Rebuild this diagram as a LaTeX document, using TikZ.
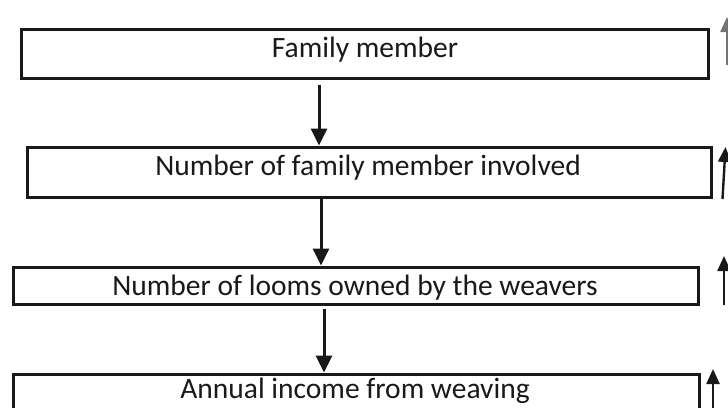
\documentclass[tikz,border=0pt]{standalone}
\usepackage{fontspec}
\setmainfont{Carlito}
\usetikzlibrary{arrows.meta}
\tikzset{
  box/.style={draw=black!90, line width=3pt, rectangle, inner sep=0pt},
  lbl/.style={font=\fontsize{29.5}{35}\selectfont, text=black!90, inner sep=0pt, anchor=base},
  flow/.style={draw=black!90, line width=3pt, -{Triangle[width=16pt,length=17pt]}},
  side/.style={draw=black!90, line width=2.4pt, -{Triangle[width=13pt,length=15pt]}},
}
\begin{document}
\begin{tikzpicture}[x=1pt,y=-1pt]
\useasboundingbox (0,0) rectangle (728,407);
\clip (0,0) rectangle (728,407);
% boxes
\node[box, minimum width=687pt, minimum height=49pt] (b1) at (364.5,53.5) {};
\node[box, minimum width=684pt, minimum height=50pt] (b2) at (369,172) {};
\node[box, minimum width=685pt, minimum height=37pt] (b3) at (355.5,285.5) {};
\node[box, minimum width=686pt, minimum height=60pt] (b4) at (356,404) {};
% labels
\node[lbl] (t1) at (365,57) {Family member};
\node[lbl] (t2) at (368,175) {Number of family member involved};
\node[lbl] (t3) at (355,295) {Number of looms owned by the weavers};
\node[lbl] (t4) at (355,398) {Annual income from weaving};
% flow arrows
\coordinate (a1) at (319,0);
\coordinate (a2) at (321,0);
\coordinate (a3) at (324,0);
\draw[flow, shorten <=5pt] (b1.south -| a1) -- (b2.north -| a1);
\draw[flow] (b2.south -| a2) -- (b3.north -| a2);
\draw[flow, shorten <=3pt] (b3.south -| a3) -- (b4.north -| a3);
% side arrows
\coordinate (s1a) at (727,65);
\coordinate (s1b) at (727,17);
\coordinate (s2a) at (722.5,199);
\coordinate (s2b) at (725.5,147);
\coordinate (s3a) at (724,305);
\coordinate (s3b) at (724,256);
\coordinate (s4a) at (713,410);
\coordinate (s4b) at (713,369);
\draw[side, draw=black!55] (s1a) -- (s1b);
\draw[side] (s2a) -- (s2b);
\draw[side] (s3a) -- (s3b);
\draw[side] (s4a) -- (s4b);
\end{tikzpicture}
\end{document}
